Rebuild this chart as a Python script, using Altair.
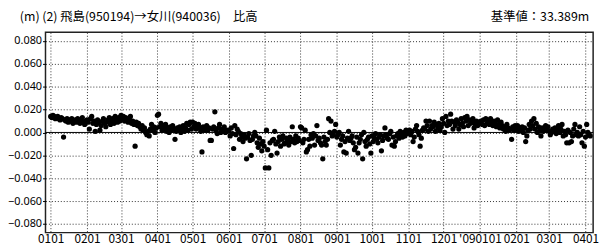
import json
import datetime as dt
import altair as alt
import pandas as pd

# ---- texts ----
title_left = "(m) (2) 飛島(950194)→女川(940036)　比高"
title_right = "基準値：33.389m"

# ---- axis ticks ----
tick_dates = ["2008-01-01", "2008-02-01", "2008-03-01", "2008-04-01", "2008-05-01",
              "2008-06-01", "2008-07-01", "2008-08-01", "2008-09-01", "2008-10-01",
              "2008-11-01", "2008-12-01", "2009-01-01", "2009-02-01", "2009-03-01",
              "2009-04-01"]
tick_labels = ["0101", "0201", "0301", "0401", "0501", "0601", "0701", "0801", "0901",
               "1001", "1101", "1201", "'090101", "0201", "0301", "0401"]
y_ticks = [-0.08, -0.06, -0.04, -0.02, 0.0, 0.02, 0.04, 0.06, 0.08]
y_labels = ["−0.080", "−0.060", "−0.040", "−0.020", "0.000", "0.020", "0.040", "0.060",
            "0.080"]

# ---- daily relative height values (mm), one list per month ----
jan08 = [14, 13, 15, 14, 12, 13, 14, 12, 11, 13, 12, -4, 11, 10, 12, 9, 11, 10, 12, 8,
         10, 11, 9, 12, 10, 8, 11, 13, 9, 7, 10]
feb08 = [11, 9, 3, 12, 14, 8, 10, 1, 7, 11, 9, 2, 6, 10, 12, 8, 5, 9, 11, 13, 7, 10, 12,
         8, 14, 11, 9, 13, 10]
mar08 = [15, 12, 14, 10, 13, 11, 9, 12, 14, 8, 10, 7, -12, 9, 6, 8, 5, 3, 6, 2, 4, 0, -2,
         1, -3, 3, 7, 2, 5, 0, 4]
apr08 = [15, 16, 5, 8, 2, 6, 3, 7, 1, 4, 0, 5, 2, 6, 3, -6, 1, 4, 2, 5, 0, 3, 6, 1, 4, 8,
         2, 7, 9, 3]
may08 = [9, 5, 8, 3, 6, 7, 4, 1, -17, 5, 2, 3, 6, 2, 4, -7, -7, 3, 5, 18, 2, -1, 4, 7, 0,
         3, 1, 5, 0, 2, 1]
jun08 = [2, -3, 4, -1, -14, 6, -2, 3, 1, -6, -1, -4, -8, -2, -5, -23, -4, -1, -7, -20, -6,
         -3, 0, -3, -9, -13, -5, -10, -16, -8]
jul08 = [-12, -31, 2, -15, -31, -9, -20, -7, -6, 1, -10, -18, -8, -4, -12, -6, -3, -10, -9,
         -5, -7, -11, -4, -8, 5, -6, -9, -3, -8, -5, -7]
aug08 = [5, 4, -9, -6, 2, -17, -15, -6, -12, -2, -5, -1, -11, -3, 6, -7, -5, -9, -11, -23,
         -4, -8, -11, -6, 12, 0, 10, -3, -2, 1, 7]
sep08 = [-4, -2, 0, -11, -6, -3, -17, -8, -18, -5, 1, -7, -5, -3, -9, -15, -13, -4, -18,
         -9, -6, -2, -23, 0, -8, -12, -6, -4, -10, -18]
oct08 = [-3, -8, -5, -1, -6, -9, -4, -2, -16, -7, -3, 4, -2, -5, -6, -1, 1, -11, -4, -12,
         -8, -3, -1, -5, 1, -2, -4, 0, -3, 2, -1]
nov08 = [0, 2, -2, 1, -8, -4, 3, 6, 1, -2, -12, -5, 2, 4, 3, 10, 6, 1, 10, 3, 6, 5, 9, 1,
         7, 4, 8, 2, 5, 12]
dec08 = [8, 0, 14, 6, 10, 7, 16, 10, 3, 9, 6, 11, 9, 3, 7, 12, 8, 5, 13, 10, 14, 6, 11, 8,
         9, 12, 4, 7, 10, 6, 9]
jan09 = [9, 10, 7, 11, 6, 12, 8, 10, 7, 12, 9, 6, 10, 8, 5, 11, 7, 4, 9, 6, 3, 5, 1, 7, 4,
         2, 3, -6, 5, 2, 6]
feb09 = [3, 6, 1, 4, 2, 5, 0, 4, -8, -3, 2, 7, 3, 10, 6, 12, 3, 8, 0, 5, 2, -3, 4, 1, 3,
         6, 2, 5]
mar09 = [1, -2, 0, 3, 1, 4, -1, 2, 6, 0, 3, 7, -3, 1, -2, -9, 2, -9, 0, -8, -3, 3, 7, -2,
         0, -3, 5, -2, -9, 1, -12]
apr09 = [-4, 7, 0, -2, -3]

month_starts = ["2008-01-01", "2008-02-01", "2008-03-01", "2008-04-01", "2008-05-01",
                "2008-06-01", "2008-07-01", "2008-08-01", "2008-09-01", "2008-10-01",
                "2008-11-01", "2008-12-01", "2009-01-01", "2009-02-01", "2009-03-01",
                "2009-04-01"]
month_values = [jan08, feb08, mar08, apr08, may08, jun08, jul08, aug08, sep08, oct08,
                nov08, dec08, jan09, feb09, mar09, apr09]

origin = dt.date(2008, 1, 1)
rows = []
for ms, vals in zip(month_starts, month_values):
    d0 = dt.date.fromisoformat(ms)
    for i, v in enumerate(vals):
        d = d0 + dt.timedelta(days=i)
        rows.append({"day": (d - origin).days, "value": v / 1000.0})
df = pd.DataFrame(rows)

tick_days = [(dt.date.fromisoformat(t) - origin).days for t in tick_dates]
x_label_expr = (json.dumps(tick_labels, ensure_ascii=False) + "[indexof("
                + json.dumps(tick_days) + ", datum.value)]")
y_label_expr = (json.dumps(y_labels, ensure_ascii=False)
                + "[round((datum.value + 0.08) / 0.02)]")

FONT = "Noto Sans CJK JP"

x_enc = alt.X(
    "day:Q",
    scale=alt.Scale(domain=[-4.4, 462.5], nice=False, zero=False),
    axis=alt.Axis(values=tick_days, labelExpr=x_label_expr, title=None, grid=True,
                  ticks=False, labelPadding=10, labelBaseline="alphabetic",
                  labelFont=FONT, labelFontSize=12,
                  domain=False, labelFlush=False, labelOverlap=False, labelBound=False),
)
y_enc = alt.Y(
    "value:Q",
    scale=alt.Scale(domain=[-0.0875, 0.0875], nice=False, zero=False),
    axis=alt.Axis(values=y_ticks, labelExpr=y_label_expr, title=None, grid=True,
                  ticks=True, tickSize=3, labelPadding=1, domain=False,
                  labelFont="Noto Sans", labelFontSize=11,
                  labelFlush=False, labelOverlap=False, labelBound=False),
)

zero_df = pd.DataFrame({"day": [0], "value": [0.0]})
zero_line = alt.Chart(zero_df).mark_rule(color="black", strokeWidth=1).encode(
    y=y_enc
)

points = alt.Chart(df).mark_circle(size=28, color="black", opacity=1).encode(
    x=x_enc, y=y_enc
)

tl = alt.Chart(pd.DataFrame({"t": [title_left]})).mark_text(
    align="left", baseline="alphabetic", fontSize=12.5, font=FONT, color="black"
).encode(text="t:N", x=alt.value(-26), y=alt.value(-11))

tr = alt.Chart(pd.DataFrame({"t": [title_right]})).mark_text(
    align="right", baseline="alphabetic", fontSize=12.5, font=FONT, color="black"
).encode(text="t:N", x=alt.value(551), y=alt.value(-11))

chart = alt.layer(zero_line, points, tl, tr).properties(
    width=555,
    height=203,
    padding={"left": 38, "top": 23, "right": 10, "bottom": 18},
    autosize=alt.AutoSizeParams(type="none"),
).configure_view(
    stroke="#222", strokeWidth=1.5
).configure_axis(
    labelColor="black", labelOverlap=False,
    gridColor="#333", gridDash=[1, 2], gridWidth=1, gridOpacity=1,
    tickColor="black",
)

chart.save("out.html", embed_options={"renderer": "svg", "actions": False})
